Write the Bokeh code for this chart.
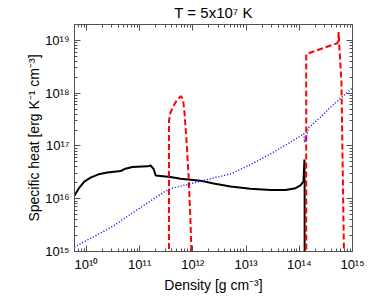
from bokeh.plotting import figure
from bokeh.models import Range1d, LogAxis, FixedTicker, CustomJSTickFormatter
from bokeh.embed import file_html
from bokeh.resources import INLINE

# ---- data ----
black_x = [5.96e9, 7.1e9, 9.1e9, 1.19e10, 1.68e10, 2.48e10, 4.4e10, 5.4e10, 7.3e10, 1.4e11,
           1.6e11, 1.82e11, 2.0e11, 2.46e11, 3.8e11, 5.9e11, 1.38e12, 2.45e12, 5.1e12,
           1.2e13, 2.9e13, 5.5e13, 8.5e13, 1.05e14, 1.2e14, 1.25e14, 1.26e14, 1.26e14]
black_y = [1.15e16, 1.55e16, 2.1e16, 2.5e16, 2.9e16, 3.15e16, 3.35e16, 3.7e16, 4.0e16, 4.1e16,
           4.25e16, 3.7e16, 2.75e16, 2.7e16, 2.57e16, 2.4e16, 2.2e16, 1.95e16, 1.7e16,
           1.55e16, 1.46e16, 1.46e16, 1.58e16, 1.78e16, 2.14e16, 5.5e16, 2.0e16, 1e14]

red_x = [3.55e11, 3.55e11, 3.8e11, 4.4e11, 5.1e11, 5.9e11, 6.5e11, 6.9e11, 7.6e11, 8.3e11,
         9.0e11, 9.4e11, 1.0e12, 1.35e14, 1.35e14, 5.16e14, 5.4e14, 5.5e14, 5.6e14, 5.7e14,
         6.2e14, 6.9e14, 7.2e14]
red_y = [1e13, 3.0e17, 4.3e17, 5.9e17, 7.6e17, 8.7e17, 7.9e17, 4.7e17, 1.26e17, 2.75e16,
         3.9e15, 1e15, 1e13, 1e13, 5.5e18, 8.8e18, 1.0e19, 1.43e19, 9.1e18, 6.5e18,
         1.6e18, 1e15, 1e13]

blue_x = [5.9e9, 2.8e10, 1.04e11, 2.8e11, 3.8e11, 1.38e12, 5.1e12, 1.2e13, 2.9e13, 6.8e13,
          1.22e14, 1.26e14, 1.51e14, 2.5e14, 3.86e14, 1e15]
blue_y = [1.22e15, 2.8e15, 6.8e15, 1.32e16, 1.55e16, 2.14e16, 2.95e16, 4.4e16, 7.1e16, 1.17e17,
          1.7e17, 1.17e17, 2.24e17, 3.5e17, 5.4e17, 1.26e18]

x_ticks = [1e10, 1e11, 1e12, 1e13, 1e14, 1e15]
x_tick_labels = ["10¹⁰", "10¹¹", "10¹²", "10¹³", "10¹⁴", "10¹⁵"]
y_ticks = [1e15, 1e16, 1e17, 1e18, 1e19]
y_tick_labels = ["10¹⁵", "10¹⁶", "10¹⁷", "10¹⁸", "10¹⁹"]

title_text = "T = 5x10⁷ K"
x_label = "Density [g cm⁻³]"
y_label = "Specific heat [erg K⁻¹ cm⁻³]"

FONT = "Liberation Sans"
AXC = "#505050"

x_minor = [m * 10.0 ** e for e in range(9, 16) for m in range(2, 10)]
y_minor = [m * 10.0 ** e for e in range(14, 20) for m in range(2, 10)]

p = figure(width=366, height=296, x_axis_type="log", y_axis_type="log",
           x_range=Range1d(10 ** 9.775, 1e15), y_range=Range1d(1e15, 10 ** 19.3),
           output_backend="svg", toolbar_location=None,
           min_border_left=74, min_border_right=14, min_border_top=24, min_border_bottom=45)
p.grid.visible = False
p.outline_line_color = AXC
p.outline_line_width = 1

lab_code = """
const lt = Math.log10(tick);
for (let i = 0; i < tvals.length; i++) {
  if (Math.abs(Math.log10(tvals[i]) - lt) < 1e-6) return tlabels[i];
}
return '';
"""

def style_axis(ax, ticks, minor, labels, show):
    ax.ticker = FixedTicker(ticks=ticks, minor_ticks=minor)
    ax.major_tick_in = 6
    ax.major_tick_out = 0
    ax.minor_tick_in = 3
    ax.minor_tick_out = 0
    ax.axis_line_color = AXC
    ax.major_tick_line_color = AXC
    ax.minor_tick_line_color = AXC
    if show:
        ax.formatter = CustomJSTickFormatter(args=dict(tvals=ticks, tlabels=labels), code=lab_code)
        ax.major_label_text_font = FONT
        ax.major_label_text_font_size = "13px"
        ax.major_label_text_color = "black"
        ax.major_label_standoff = 5
    else:
        ax.formatter = CustomJSTickFormatter(code="return '';")
        ax.major_label_text_font_size = "0px"
        ax.major_label_standoff = 0

style_axis(p.xaxis[0], x_ticks, x_minor, x_tick_labels, True)
style_axis(p.yaxis[0], y_ticks, y_minor, y_tick_labels, True)
p.xaxis[0].axis_label = x_label
p.yaxis[0].axis_label = y_label
for ax in (p.xaxis[0], p.yaxis[0]):
    ax.axis_label_text_font = FONT
    ax.axis_label_text_font_size = "14px"
    ax.axis_label_text_font_style = "normal"
    ax.axis_label_text_color = "black"
p.xaxis[0].axis_label_standoff = 2
p.yaxis[0].axis_label_standoff = 0

top = LogAxis()
style_axis(top, x_ticks, x_minor, x_tick_labels, False)
top.axis_label = title_text
top.axis_label_text_font = FONT
top.axis_label_text_font_size = "15px"
top.axis_label_text_font_style = "normal"
top.axis_label_text_color = "black"
top.axis_label_standoff = 4
p.add_layout(top, "above")

right = LogAxis()
style_axis(right, y_ticks, y_minor, y_tick_labels, False)
p.add_layout(right, "right")

p.line(black_x, black_y, line_color="black", line_width=2)
p.line(red_x, red_y, line_color="red", line_width=2, line_dash="6 3")
p.line(blue_x, blue_y, line_color="blue", line_width=1.5, line_dash="1 2")

open("out.html", "w").write(file_html(p, INLINE))
